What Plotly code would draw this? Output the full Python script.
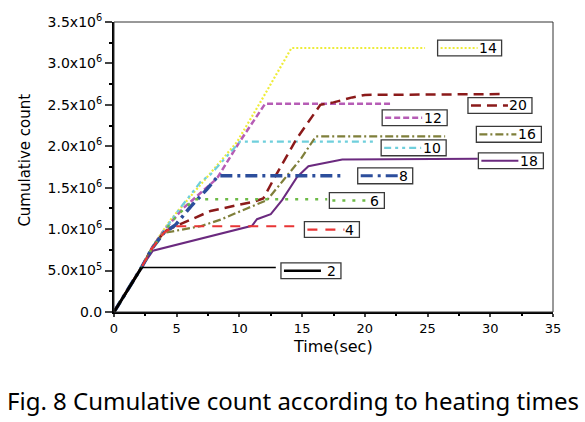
import plotly.graph_objects as go

# ---------------- data (time in sec, cumulative count) ----------------
t2 = [0, 2.2, 12.9]
c2 = [0, 0.537e6, 0.537e6]

t4 = [0, 2.2, 3.0, 4.0, 4.8, 14.7]
c4 = [0, 0.54e6, 0.76e6, 0.96e6, 1.035e6, 1.035e6]

t6 = [0, 2.2, 3.0, 4.0, 5.0, 6.4, 17.0]
c6 = [0, 0.54e6, 0.76e6, 0.97e6, 1.16e6, 1.36e6, 1.36e6]

t8 = [0, 2.2, 3.0, 4.0, 4.9, 6.1, 7.4, 8.3, 18.4]
c8 = [0, 0.54e6, 0.76e6, 0.96e6, 1.05e6, 1.27e6, 1.48e6, 1.643e6, 1.643e6]

t10 = [0, 2.2, 3.0, 4.0, 5.0, 6.9, 7.7, 10.05, 20.8]
c10 = [0, 0.54e6, 0.77e6, 0.98e6, 1.2e6, 1.57e6, 1.66e6, 2.057e6, 2.057e6]

t12 = [0, 2.2, 3.0, 4.0, 5.5, 8.2, 10.0, 12.05, 22.2]
c12 = [0, 0.54e6, 0.77e6, 0.99e6, 1.25e6, 1.61e6, 2.05e6, 2.514e6, 2.514e6]

t14 = [0, 2.2, 3.1, 4.5, 5.0, 9.8, 11.66, 14.15, 24.8]
c14 = [0, 0.54e6, 0.8e6, 1.11e6, 1.2e6, 2.05e6, 2.53e6, 3.186e6, 3.186e6]

t16 = [0, 2.2, 3.0, 4.0, 6.9, 8.5, 10.6, 12.2, 13.5, 14.9, 16.1, 26.4]
c16 = [0, 0.54e6, 0.76e6, 0.955e6, 1.035e6, 1.115e6, 1.25e6, 1.35e6, 1.59e6, 1.85e6, 2.12e6, 2.12e6]

t18 = [0, 2.2, 3.1, 11.0, 11.4, 12.5, 13.4, 14.6, 15.5, 18.2, 29.0]
c18 = [0, 0.54e6, 0.74e6, 1.04e6, 1.12e6, 1.18e6, 1.35e6, 1.63e6, 1.76e6, 1.84e6, 1.85e6]

t20 = [0, 2.2, 3.0, 4.0, 5.0, 7.7, 11.1, 11.9, 12.9, 14.6, 16.45, 17.5, 19.0, 20.0, 30.8]
c20 = [0, 0.54e6, 0.76e6, 0.97e6, 1.04e6, 1.22e6, 1.33e6, 1.37e6, 1.65e6, 2.1e6, 2.5e6, 2.53e6, 2.59e6, 2.62e6, 2.63e6]

x_ticks = [0, 5, 10, 15, 20, 25, 30, 35]
y_ticks = [0, 0.5e6, 1.0e6, 1.5e6, 2.0e6, 2.5e6, 3.0e6, 3.5e6]
y_tick_text = ["0.0", "5.0x10<sup>5</sup>", "1.0x10<sup>6</sup>", "1.5x10<sup>6</sup>",
               "2.0x10<sup>6</sup>", "2.5x10<sup>6</sup>", "3.0x10<sup>6</sup>", "3.5x10<sup>6</sup>"]

# ---------------- layout constants ----------------
W, H = 585, 422
ML, MR, MT, MB = 114, 32, 18, 110
PW, PH = W - ML - MR, H - MT - MB
XR, YR = [0, 35], [0, 3.5e6]
sx = (XR[1] - XR[0]) / PW      # data units per pixel
sy = (YR[1] - YR[0]) / PH

# name, t, c, color, dash, width, label box (left x, centre y, width px)
series = [
    ("14", t14, c14, "#eeec38", "2px,2px", 2.2, (25.8, 3.186e6, 64)),
    ("12", t12, c12, "#b65cb5", "6px,3px", 2.5, (21.38, 2.344e6, 65)),
    ("10", t10, c10, "#6fcfdc", "7px,4px,3px,4px,3px,4px", 2.2, (21.3, 1.981e6, 65)),
    ("20", t20, c20, "#8b1a1a", "10px,6px", 2.5, (28.22, 2.493e6, 64)),
    ("16", t16, c16, "#7f7f3a", "8px,3px,2px,3px", 2.2, (28.89, 2.144e6, 65)),
    ("18", t18, c18, "#6b2a7f", "solid", 2.0, (29.05, 1.826e6, 65)),
    ("8", t8, c8, "#2c4e9c", "12px,5px,3px,5px", 3.5, (19.43, 1.643e6, 55)),
    ("6", t6, c6, "#6dbb48", "3px,7px", 2.5, (17.17, 1.345e6, 55)),
    ("4", t4, c4, "#e83535", "10px,8px", 2.2, (15.18, 0.995e6, 55)),
]

fig = go.Figure()
for name, t, c, col, dash, w, _ in series:
    fig.add_trace(go.Scatter(x=t, y=c, mode="lines", name=name,
                             line=dict(color=col, dash=dash, width=w), showlegend=False))
# series 2 : thick rising part, thin plateau
fig.add_trace(go.Scatter(x=t2[:2], y=c2[:2], mode="lines", line=dict(color="black", width=3),
                         showlegend=False))
fig.add_trace(go.Scatter(x=t2[1:], y=c2[1:], mode="lines", line=dict(color="black", width=1.3),
                         showlegend=False))

shapes, annots = [], []
label_items = [(n, col, dash, w, box) for n, _, _, col, dash, w, box in series]
label_items.append(("2", "black", "solid", 2.5, (13.31, 0.498e6, 60)))
for n, col, dash, w, (lx, cy, bw) in label_items:
    bh = 16
    x0, x1 = lx, lx + bw * sx
    y0, y1 = cy - bh / 2 * sy, cy + bh / 2 * sy
    shapes.append(dict(type="rect", xref="x", yref="y", x0=x0, x1=x1, y0=y0, y1=y1,
                       line=dict(color="#3a3a3a", width=1.3), fillcolor="white", layer="above"))
    shapes.append(dict(type="line", xref="x", yref="y", x0=lx + 3 * sx, x1=lx + 40 * sx,
                       y0=cy, y1=cy, line=dict(color=col, dash=dash, width=min(w, 3)), layer="above"))
    annots.append(dict(x=x1 - 3 * sx, y=cy, xref="x", yref="y", text=n, showarrow=False,
                       xanchor="right", yanchor="middle",
                       font=dict(family="DejaVu Sans", size=14, color="black")))

# frame (top / right)
shapes.append(dict(type="rect", xref="paper", yref="paper", x0=0, x1=1, y0=0, y1=1,
                   line=dict(color="#333333", width=1), layer="above"))

annots.append(dict(x=(333 - ML) / PW, y=0, xref="paper", yref="paper", yshift=-34, text="Time(sec)",
                   showarrow=False, xanchor="center", yanchor="middle",
                   font=dict(family="DejaVu Sans", size=16, color="black")))
annots.append(dict(x=0, y=0.522, xref="paper", yref="paper", xshift=-89, text="Cumulative count",
                   textangle=-90, showarrow=False, xanchor="center", yanchor="middle",
                   font=dict(family="DejaVu Sans", size=15, color="black")))
annots.append(dict(x=(293 - ML) / PW, y=0, xref="paper", yref="paper", yshift=-88,
                   text="Fig. 8 Cumulative count according to heating times",
                   showarrow=False, xanchor="center", yanchor="middle",
                   font=dict(family="Noto Sans", size=24, color="black")))

fig.update_layout(
    width=W, height=H, margin=dict(l=ML, r=MR, t=MT, b=MB),
    paper_bgcolor="white", plot_bgcolor="white",
    shapes=shapes, annotations=annots,
    xaxis=dict(range=XR, tickvals=x_ticks, ticks="outside", ticklen=3, tickwidth=1.5,
               showgrid=False, zeroline=False, showline=True, linewidth=2, linecolor="black",
               tickfont=dict(family="DejaVu Sans", size=13, color="black"),
               minor=dict(dtick=2.5, ticks="outside", ticklen=2, tickcolor="black")),
    yaxis=dict(range=YR, tickvals=y_ticks, ticktext=y_tick_text, ticks="outside", ticklen=7,
               tickwidth=1.5, showgrid=False, zeroline=False, showline=True, linewidth=2,
               linecolor="black", tickfont=dict(family="DejaVu Sans", size=14, color="black"),
               minor=dict(dtick=0.25e6, ticks="outside", ticklen=3, tickcolor="black")),
)

fig.write_html("out.html", post_script="document.body.style.margin='0';",
               config={"displayModeBar": False})
